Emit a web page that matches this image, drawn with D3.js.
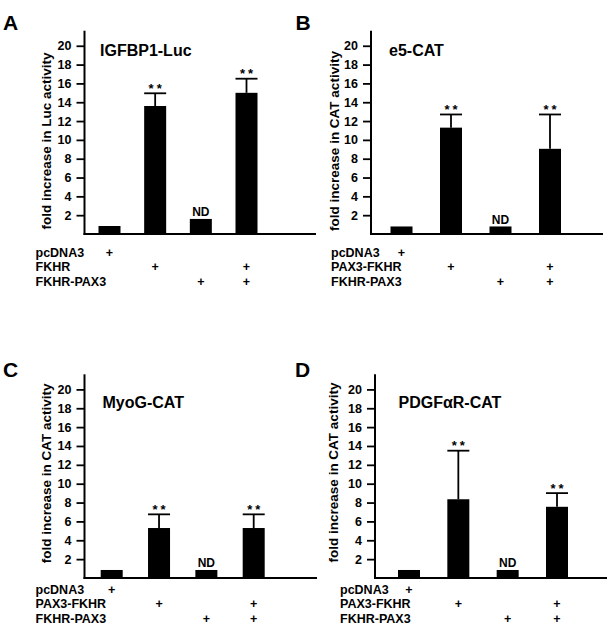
<!DOCTYPE html>
<html>
<head>
<meta charset="utf-8">
<script src="https://cdn.jsdelivr.net/npm/d3@7"></script>
<style>
  html, body { margin: 0; padding: 0; background: #fff; }
  svg { display: block; }
  text { font-family: "Liberation Sans", Arial, Helvetica, sans-serif; font-weight: bold; fill: #000; }
</style>
</head>
<body>
<svg id="chart" width="614" height="637"></svg>
<script>
// ---------------- DATA ----------------
const panelLetters = ["A", "B", "C", "D"];
const reporterNames = ["IGFBP1-Luc", "e5-CAT", "MyoG-CAT", "PDGF\u03B1R-CAT"];
const yAxisTitles = [
  "fold increase in Luc activity",
  "fold increase in CAT activity",
  "fold increase in CAT activity",
  "fold increase in CAT activity"
];
const conditions = ["c1", "c2", "c3", "c4"];
const rowLabelsA = ["pcDNA3", "FKHR", "FKHR-PAX3"];
const rowLabelsB = ["pcDNA3", "PAX3-FKHR", "FKHR-PAX3"];
const rowLabelsC = ["pcDNA3", "PAX3-FKHR", "FKHR-PAX3"];
const rowLabelsD = ["pcDNA3", "PAX3-FKHR", "FKHR-PAX3"];
// which condition gets a "+" in each row
const plusRows = [
  [1, 0, 0, 0],
  [0, 1, 0, 1],
  [0, 0, 1, 1]
];
const meanA = [0.85, 13.6, 1.6, 15.0];
const errA  = [0, 1.35, 0, 1.5];
const meanB = [0.8, 11.3, 0.8, 9.05];
const errB  = [0, 1.4, 0, 3.65];
const meanC = [0.85, 5.3, 0.85, 5.3];
const errC  = [0, 1.45, 0, 1.45];
const meanD = [0.85, 8.35, 0.85, 7.55];
const errD  = [0, 5.15, 0, 1.45];
const marksA = ["", "**", "ND", "**"];
const marksB = ["", "**", "ND", "**"];
const marksC = ["", "**", "ND", "**"];
const marksD = ["", "**", "ND", "**"];
const yTickValues = [2, 4, 6, 8, 10, 12, 14, 16, 18, 20];
const yMax = 21.6;

// ---------------- LAYOUT ----------------
const layouts = [
  { axisX: 84.5, base: 234, top: 30.7, right: 316, c0: 109.5, c1: 246.5, rowX: 35.5, rowY: 256.8, letter: [3, 29.5], titleX: 100, titleY: 55.5, ytX: 51, ytY: 141 },
  { axisX: 371, base: 234, top: 30.7, right: 603, c0: 401.5, c1: 550, rowX: 331, rowY: 256.8, letter: [295.5, 29.5], titleX: 389, titleY: 55.5, ytX: 338.5, ytY: 141 },
  { axisX: 84.5, base: 578, top: 374.3, right: 317, c0: 111.7, c1: 253.7, rowX: 35.5, rowY: 593.5, letter: [3, 376.7], titleX: 102.5, titleY: 408.3, ytX: 50.5, ytY: 473.3 },
  { axisX: 375, base: 578, top: 374.3, right: 607, c0: 409, c1: 557, rowX: 340, rowY: 593.5, letter: [295, 376.7], titleX: 398.5, titleY: 408.3, ytX: 337.5, ytY: 472.5 }
];

const panels = [
  { letter: panelLetters[0], name: reporterNames[0], ytitle: yAxisTitles[0], rows: rowLabelsA, mean: meanA, err: errA, marks: marksA },
  { letter: panelLetters[1], name: reporterNames[1], ytitle: yAxisTitles[1], rows: rowLabelsB, mean: meanB, err: errB, marks: marksB },
  { letter: panelLetters[2], name: reporterNames[2], ytitle: yAxisTitles[2], rows: rowLabelsC, mean: meanC, err: errC, marks: marksC },
  { letter: panelLetters[3], name: reporterNames[3], ytitle: yAxisTitles[3], rows: rowLabelsD, mean: meanD, err: errD, marks: marksD }
];

const svg = d3.select("#chart");
const barW = 22;

panels.forEach((p, i) => {
  const L = layouts[i];
  const g = svg.append("g");

  const y = d3.scaleLinear().domain([0, yMax]).range([L.base, L.top]);
  const x = d3.scalePoint().domain(conditions).range([L.c0, L.c1]);

  // panel letter
  g.append("text").attr("x", L.letter[0]).attr("y", L.letter[1])
    .style("font-size", "21px").text(p.letter);

  // y axis
  const yAxis = d3.axisLeft(y).tickValues(yTickValues).tickSize(8).tickPadding(5)
    .tickFormat(d3.format("d"));
  const ag = g.append("g").attr("transform", `translate(${L.axisX},0)`).call(yAxis);
  ag.select(".domain").remove();
  ag.selectAll(".tick line").attr("stroke", "#000").attr("stroke-width", 1.8);
  ag.selectAll(".tick text").style("font-size", "12.5px").style("font-family", "'Liberation Sans', Arial, sans-serif").style("font-weight", "bold").attr("fill", "#000");
  g.append("line").attr("x1", L.axisX).attr("x2", L.axisX).attr("y1", y(yMax)).attr("y2", L.base + 1)
    .attr("stroke", "#000").attr("stroke-width", 2);
  // x axis baseline
  g.append("line").attr("x1", L.axisX - 1).attr("x2", L.right).attr("y1", y(0)).attr("y2", y(0))
    .attr("stroke", "#000").attr("stroke-width", 2);

  // y axis title
  g.append("text").attr("transform", `translate(${L.ytX},${L.ytY}) rotate(-90)`)
    .attr("text-anchor", "middle").style("font-size", "13.5px").text(p.ytitle);

  // reporter title
  g.append("text").attr("x", L.titleX).attr("y", L.titleY).style("font-size", "16px").text(p.name);

  const data = conditions.map((c, k) => ({ c, v: p.mean[k], e: p.err[k], m: p.marks[k] }));

  // error bars (upper only)
  const eb = data.filter(d => d.e > 0);
  g.selectAll(".whisker").data(eb).enter().append("line")
    .attr("x1", d => x(d.c)).attr("x2", d => x(d.c))
    .attr("y1", d => y(d.v)).attr("y2", d => y(d.v + d.e))
    .attr("stroke", "#000").attr("stroke-width", 1.8);
  g.selectAll(".cap").data(eb).enter().append("line")
    .attr("x1", d => x(d.c) - barW / 2).attr("x2", d => x(d.c) + barW / 2)
    .attr("y1", d => y(d.v + d.e)).attr("y2", d => y(d.v + d.e))
    .attr("stroke", "#000").attr("stroke-width", 1.8);

  // bars
  g.selectAll(".bar").data(data).enter().append("rect")
    .attr("x", d => x(d.c) - barW / 2).attr("width", barW)
    .attr("y", d => y(d.v)).attr("height", d => y(0) - y(d.v))
    .attr("fill", "#000");

  // significance marks
  g.selectAll(".mark").data(data.filter(d => d.m)).enter().append("text")
    .attr("x", d => x(d.c) + (d.m === "ND" ? 0 : 1.5)).attr("text-anchor", "middle")
    .attr("y", d => d.m === "ND" ? y(d.v + d.e) - 2.5 : y(d.v + d.e) - 0.5)
    .style("font-size", d => d.m === "ND" ? "12px" : "13px")
    .style("letter-spacing", d => d.m === "ND" ? "0px" : "3px")
    .text(d => d.m);

  // condition rows
  p.rows.forEach((lab, r) => {
    const ry = L.rowY + r * 14.5;
    g.append("text").attr("x", L.rowX).attr("y", ry).style("font-size", "12.5px").text(lab);
    conditions.forEach((c, k) => {
      if (plusRows[r][k]) {
        g.append("text").attr("x", x(c)).attr("y", ry).attr("text-anchor", "middle")
          .style("font-size", "12.5px").text("+");
      }
    });
  });
});
</script>
</body>
</html>
